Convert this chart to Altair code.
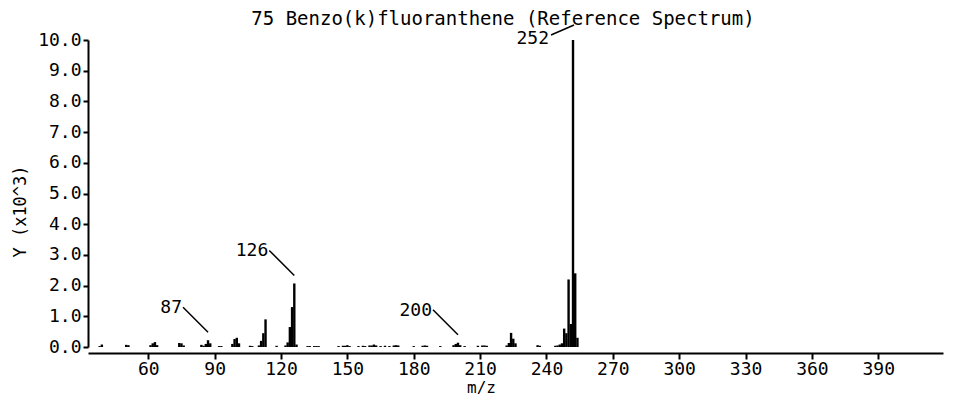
import altair as alt
import pandas as pd

# m/z values and abundances (x10^3)
mz = [38, 39, 50, 51, 61, 62, 63, 64, 74, 75, 76, 84, 85, 86, 87, 88, 92, 93,
      98, 99, 100, 101, 106, 107, 110, 111, 112, 113, 118, 122, 123, 124, 125, 126, 127,
      132, 133, 135, 136, 137, 146, 148, 149, 150, 151, 155, 157, 158, 160, 161, 162, 163,
      165, 167, 169, 171, 172, 173, 180, 184, 185, 186, 192, 198, 199, 200, 201, 203,
      209, 211, 212, 213, 222, 223, 224, 225, 226, 236, 237, 244, 245, 246, 247,
      248, 249, 250, 251, 252, 253, 254]
abundance = [0.03, 0.08, 0.07, 0.06, 0.06, 0.12, 0.16, 0.06, 0.13, 0.12, 0.05, 0.07, 0.04, 0.10, 0.22, 0.12, 0.03, 0.03,
             0.10, 0.26, 0.30, 0.12, 0.04, 0.03, 0.05, 0.20, 0.45, 0.90, 0.04, 0.05, 0.15, 0.65, 1.30, 2.07, 0.08,
             0.03, 0.03, 0.03, 0.03, 0.03, 0.03, 0.04, 0.04, 0.06, 0.03, 0.03, 0.04, 0.03, 0.05, 0.05, 0.08, 0.05,
             0.03, 0.04, 0.03, 0.05, 0.06, 0.05, 0.03, 0.04, 0.05, 0.04, 0.03, 0.06, 0.10, 0.14, 0.06, 0.03,
             0.04, 0.05, 0.05, 0.04, 0.05, 0.13, 0.46, 0.27, 0.12, 0.06, 0.04, 0.04, 0.05, 0.08, 0.12,
             0.60, 0.45, 2.20, 0.75, 10.0, 2.40, 0.30]

x_ticks = [60, 90, 120, 150, 180, 210, 240, 270, 300, 330, 360, 390]
y_ticks = [0.0, 1.0, 2.0, 3.0, 4.0, 5.0, 6.0, 7.0, 8.0, 9.0, 10.0]

ann_mz = [87, 126, 200]
ann_val = [0.22, 2.07, 0.14]
base_mz = [252]
base_val = [10.0]

TITLE = "75 Benzo(k)fluoranthene (Reference Spectrum)"
FONT = "DejaVu Sans Mono"
FS = 18

spec = pd.DataFrame({"mz": mz, "y": abundance})
ann = pd.DataFrame({"mz": ann_mz, "y": ann_val, "label": [str(v) for v in ann_mz]})
base = pd.DataFrame({"mz": base_mz, "y": base_val, "label": [str(v) for v in base_mz]})

xscale = alt.Scale(domain=[35, 417], nice=False, zero=False)
yscale = alt.Scale(domain=[0, 10], nice=False)

bars = alt.Chart(spec).mark_bar(color="black", size=2.4, clip=False).encode(
    x=alt.X("mz:Q", scale=xscale,
            axis=alt.Axis(values=x_ticks, title="m/z", offset=6, grid=False,
                          domainColor="black", domainWidth=2, tickColor="black",
                          tickWidth=2, tickSize=6, labelFont=FONT, labelFontSize=FS,
                          labelColor="black", labelPadding=1, labelOverlap=False,
                          titleFont=FONT, titleFontSize=16, titleFontWeight="normal",
                          titleColor="black", titleX=393, titleY=34, titleAlign="center",
                          titleBaseline="middle")),
    y=alt.Y("y:Q", scale=yscale,
            axis=alt.Axis(values=y_ticks, tickCount=11, format=".1f", title="Y (x10^3)",
                          grid=False, domainColor="black", domainWidth=2, tickColor="black",
                          tickWidth=2, tickSize=5, labelFont=FONT, labelFontSize=FS,
                          labelColor="black", labelPadding=2, labelOverlap=False,
                          labelSeparation=0, titleFont=FONT, titleFontSize=17,
                          titleFontWeight="normal", titleColor="black", titleAngle=270,
                          titleX=-68, titleY=171, titleAlign="center",
                          titleBaseline="middle")),
)

lead = alt.Chart(ann).mark_rule(color="black", strokeWidth=1.5, xOffset=-25, yOffset=-33,
                                x2Offset=0, y2Offset=-8).encode(
    x="mz:Q", y="y:Q", x2="mz:Q", y2="y:Q")
lead_txt = alt.Chart(ann).mark_text(font=FONT, fontSize=FS, color="black", align="right",
                                    baseline="middle", dx=-26, dy=-32).encode(
    x="mz:Q", y="y:Q", text="label:N")

lead_b = alt.Chart(base).mark_rule(color="black", strokeWidth=1.5, xOffset=-22, yOffset=-5,
                                   x2Offset=1, y2Offset=-15, clip=False).encode(
    x="mz:Q", y="y:Q", x2="mz:Q", y2="y:Q")
lead_b_txt = alt.Chart(base).mark_text(font=FONT, fontSize=FS, color="black", align="right",
                                       baseline="middle", dx=-24, dy=-1).encode(
    x="mz:Q", y="y:Q", text="label:N")

title_txt = alt.Chart(pd.DataFrame({"t": [TITLE]})).mark_text(
    font=FONT, fontSize=19, color="black", align="center", baseline="alphabetic"
).encode(x=alt.value(415), y=alt.value(-15), text="t:N")

chart = alt.layer(bars, lead, lead_txt, lead_b, lead_b_txt, title_txt).properties(
    width=855, height=307,
    autosize=alt.AutoSizeParams(type="none"),
    padding={"left": 80, "top": 32, "right": 7, "bottom": 48},
).configure(background="white", view=alt.ViewConfig(stroke=None, strokeWidth=0))

chart.save("out.html", embed_options={"renderer": "svg", "actions": False})
